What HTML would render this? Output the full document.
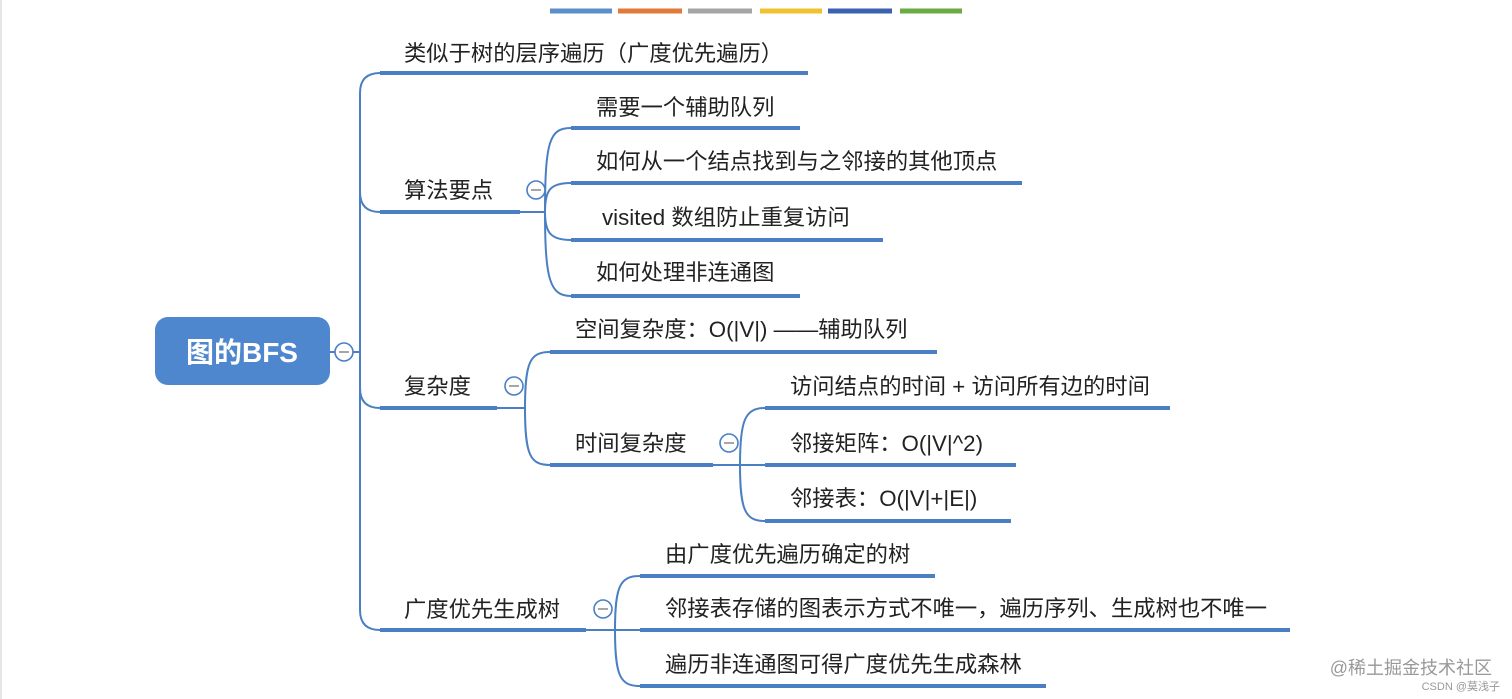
<!DOCTYPE html>
<html><head><meta charset="utf-8"><style>
html,body{margin:0;padding:0;background:#fff;width:1512px;height:699px;overflow:hidden}
svg text{font-family:"Liberation Sans","Noto Sans CJK SC",sans-serif;font-size:22.3px;fill:#222}
</style></head><body>
<svg width="1512" height="699" viewBox="0 0 1512 699" xmlns="http://www.w3.org/2000/svg">
<line x1="1" y1="0" x2="1" y2="699" stroke="#ccc" stroke-width="1"/>
<g stroke-width="5">
<line x1="550" y1="11" x2="612" y2="11" stroke="#5b8fc9"/>
<line x1="618" y1="11" x2="682" y2="11" stroke="#e07a3a"/>
<line x1="688" y1="11" x2="752" y2="11" stroke="#a5a5a5"/>
<line x1="760" y1="11" x2="822" y2="11" stroke="#f2c12e"/>
<line x1="828" y1="11" x2="892" y2="11" stroke="#3a62b0"/>
<line x1="900" y1="11" x2="962" y2="11" stroke="#6aab45"/>
</g>
<rect x="155" y="317" width="175" height="68" rx="13" fill="#4f87cf"/>
<text x="242" y="362" text-anchor="middle" style="font-size:28px;font-weight:bold;fill:#fff">图的BFS</text>
<g fill="none" stroke="#4a7fc4" stroke-width="2">
<line x1="330" y1="352" x2="335" y2="352"/>
<line x1="353" y1="352" x2="360" y2="352"/>
<path d="M380,73 Q360,73 360,93 L360,610 Q360,630 380,630"/>
<path d="M360,192 Q360,212 380,212"/>
<path d="M360,388 Q360,408 380,408"/>
<path d="M520,212 L545,212"/>
<path d="M545,212 C545,140 550,128 571,128"/>
<path d="M545,212 C545,190 550,183 571,183"/>
<path d="M545,212 C545,232 550,240 571,240"/>
<path d="M545,212 C545,280 550,296 571,296"/>
<path d="M497,408 L525,408"/>
<path d="M525,408 C525,362 530,352 550,352"/>
<path d="M525,408 C525,455 530,465 550,465"/>
<path d="M713,465 L740,465"/>
<path d="M740,465 C740,420 745,408 765,408"/>
<path d="M740,465 L765,465"/>
<path d="M740,465 C740,510 745,521 765,521"/>
<path d="M586,630 L615,630"/>
<path d="M615,630 C615,586 620,576 640,576"/>
<path d="M615,630 L640,630"/>
<path d="M615,630 C615,676 620,686 640,686"/>
</g>
<g stroke="#4a7fc4" stroke-width="4">
<line x1="380" y1="73" x2="808" y2="73"/>
<line x1="380" y1="212" x2="520" y2="212"/>
<line x1="571" y1="128" x2="800" y2="128"/>
<line x1="571" y1="183" x2="1022" y2="183"/>
<line x1="571" y1="240" x2="883" y2="240"/>
<line x1="571" y1="296" x2="800" y2="296"/>
<line x1="380" y1="408" x2="497" y2="408"/>
<line x1="550" y1="352" x2="937" y2="352"/>
<line x1="550" y1="465" x2="713" y2="465"/>
<line x1="765" y1="408" x2="1170" y2="408"/>
<line x1="765" y1="465" x2="1016" y2="465"/>
<line x1="765" y1="521" x2="1011" y2="521"/>
<line x1="380" y1="630" x2="586" y2="630"/>
<line x1="640" y1="576" x2="935" y2="576"/>
<line x1="640" y1="630" x2="1290" y2="630"/>
<line x1="640" y1="686" x2="1046" y2="686"/>
</g>
<g fill="#fff" stroke="#4a7fc4" stroke-width="1.6">
<circle cx="344" cy="352" r="9"/><circle cx="536" cy="190" r="9"/><circle cx="514" cy="386" r="9"/><circle cx="729" cy="443" r="9"/><circle cx="603" cy="609" r="9"/>
</g>
<g stroke="#888" stroke-width="1.5">
<line x1="339" y1="352" x2="349" y2="352"/><line x1="531" y1="190" x2="541" y2="190"/><line x1="509" y1="386" x2="519" y2="386"/><line x1="724" y1="443" x2="734" y2="443"/><line x1="598" y1="609" x2="608" y2="609"/>
</g>
<text x="404" y="61">类似于树的层序遍历（广度优先遍历）</text>
<text x="404" y="198">算法要点</text>
<text x="596" y="115">需要一个辅助队列</text>
<text x="596" y="169">如何从一个结点找到与之邻接的其他顶点</text>
<text x="602" y="225">visited 数组防止重复访问</text>
<text x="596" y="280">如何处理非连通图</text>
<text x="404" y="394">复杂度</text>
<text x="575" y="337">空间复杂度：O(|V|) ——辅助队列</text>
<text x="575" y="451">时间复杂度</text>
<text x="790" y="394">访问结点的时间 + 访问所有边的时间</text>
<text x="790" y="451">邻接矩阵：O(|V|^2)</text>
<text x="790" y="506">邻接表：O(|V|+|E|)</text>
<text x="404" y="617">广度优先生成树</text>
<text x="665" y="562">由广度优先遍历确定的树</text>
<text x="665" y="616">邻接表存储的图表示方式不唯一，遍历序列、生成树也不唯一</text>
<text x="665" y="672">遍历非连通图可得广度优先生成森林</text>
<text x="1492" y="674" text-anchor="end" style="font-size:18px;fill:#999">@稀土掘金技术社区</text>
<text x="1500" y="690" text-anchor="end" style="font-size:11px;fill:#999">CSDN @莫浅子</text>
</svg>
</body></html>
